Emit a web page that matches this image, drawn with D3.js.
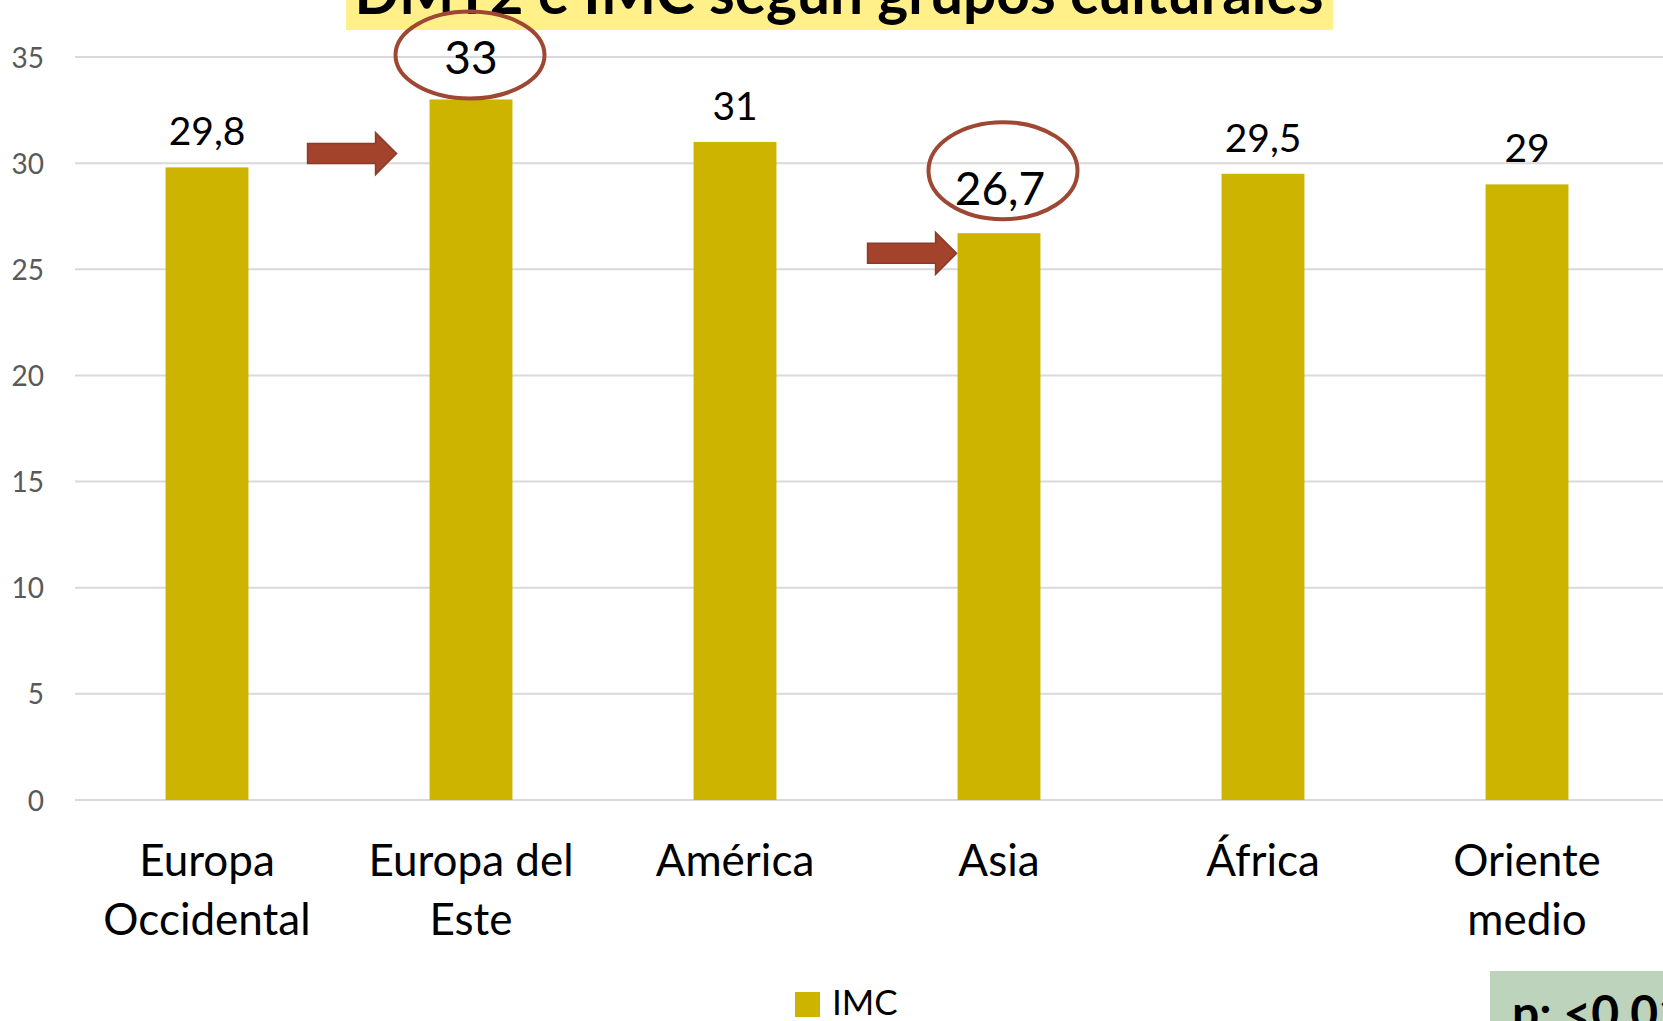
<!DOCTYPE html>
<html>
<head>
<meta charset="utf-8">
<script src="https://cdn.jsdelivr.net/npm/d3@7"></script>
<style>
  html, body { margin: 0; padding: 0; background: #ffffff; }
  svg { display: block; font-family: Lato, "Open Sans", sans-serif; }
</style>
</head>
<body>
<script>
// datos del grafico
var categorias = ["Europa Occidental", "Europa del Este", "América", "Asia", "África", "Oriente medio"];
var lineasCategoria = [["Europa", "Occidental"], ["Europa del", "Este"], ["América"], ["Asia"], ["África"], ["Oriente", "medio"]];
var valoresIMC = [29.8, 33, 31, 26.7, 29.5, 29];
var etiquetasIMC = ["29,8", "33", "31", "26,7", "29,5", "29"];
var ticksY = [0, 5, 10, 15, 20, 25, 30, 35];
var destacados = ["Europa del Este", "Asia"];
var titulo = "DMT2 e IMC según grupos culturales";
var serie = "IMC";
var textoP = "p: <0.01";

var ancho = 1663, alto = 1021;
var colorBarra = "#CDB400";
var colorRojo = "#A4432C";

var svg = d3.select("body").append("svg")
    .attr("width", ancho)
    .attr("height", alto);

svg.append("rect").attr("width", ancho).attr("height", alto).attr("fill", "#ffffff");

var x = d3.scaleBand()
    .domain(categorias)
    .range([75, 75 + 6 * 264])
    .padding(0);

var y = d3.scaleLinear()
    .domain([0, 35])
    .range([800, 57]);

var anchoBarra = x.bandwidth() * 0.314;

// lineas de la grilla
svg.append("g").selectAll("line")
    .data(ticksY)
    .enter()
    .append("line")
    .attr("x1", 75)
    .attr("x2", ancho)
    .attr("y1", function (d) { return y(d); })
    .attr("y2", function (d) { return y(d); })
    .attr("stroke", "#d9d9d9")
    .attr("stroke-width", 2);

// eje Y
var ejeY = d3.axisLeft(y).tickValues(ticksY).tickSize(0).tickPadding(0);
var gEje = svg.append("g")
    .attr("transform", "translate(44,0)")
    .call(ejeY);
gEje.select(".domain").remove();
gEje.selectAll("text")
    .attr("font-family", "Lato, sans-serif")
    .attr("font-size", 28)
    .attr("fill", "#595959")
    .attr("dy", "0.36em");

// titulo (recortado arriba)
svg.append("rect")
    .attr("x", 346).attr("y", 0)
    .attr("width", 987).attr("height", 30)
    .attr("fill", "#FFF08A");
var tTitulo = svg.append("text")
    .attr("x", 839)
    .attr("y", 14)
    .attr("text-anchor", "middle")
    .attr("font-weight", 700)
    .attr("font-size", 52)
    .attr("fill", "#000")
    .text(titulo);
var largo = tTitulo.node().getComputedTextLength();
tTitulo.attr("font-size", 52 * 969 / largo);

// barras
svg.append("g").selectAll("rect")
    .data(valoresIMC)
    .enter()
    .append("rect")
    .attr("x", function (d, i) { return x(categorias[i]) + x.bandwidth() / 2 - anchoBarra / 2; })
    .attr("y", function (d) { return y(d); })
    .attr("width", anchoBarra)
    .attr("height", function (d) { return y(0) - y(d); })
    .attr("fill", colorBarra);

// etiquetas de valores
svg.append("g").selectAll("text")
    .data(valoresIMC)
    .enter()
    .append("text")
    .attr("x", function (d, i) { return x(categorias[i]) + x.bandwidth() / 2 + (categorias[i] === "Asia" ? 1 : 0); })
    .attr("y", function (d, i) {
        var esDest = destacados.indexOf(categorias[i]) >= 0;
        if (!esDest) return y(d) - 22;
        return categorias[i] === "Asia" ? y(d) - 28 : y(d) - 25;
    })
    .attr("text-anchor", "middle")
    .attr("font-size", function (d, i) { return destacados.indexOf(categorias[i]) >= 0 ? 46 : 39; })
    .attr("fill", "#000")
    .text(function (d, i) { return etiquetasIMC[i]; });

// etiquetas de categorias
var gCat = svg.append("g");
lineasCategoria.forEach(function (lineas, i) {
    var t = gCat.append("text")
        .attr("text-anchor", "middle")
        .attr("font-size", 44)
        .attr("fill", "#000");
    lineas.forEach(function (l, j) {
        t.append("tspan")
            .attr("x", x(categorias[i]) + x.bandwidth() / 2)
            .attr("y", 876 + j * 59)
            .text(l);
    });
});

// elipses y flechas de los destacados
var elipses = [
    {cat: "Europa del Este", dy: -44.5, dx: -1, rx: 74.5, ry: 43.5},
    {cat: "Asia", dy: -62.5, dx: 4, rx: 74.5, ry: 48.5}
];
elipses.forEach(function (e) {
    var i = categorias.indexOf(e.cat);
    svg.append("ellipse")
        .attr("cx", x(e.cat) + x.bandwidth() / 2 + e.dx)
        .attr("cy", y(valoresIMC[i]) + e.dy)
        .attr("rx", e.rx)
        .attr("ry", e.ry)
        .attr("fill", "none")
        .attr("stroke", "#9E4733")
        .attr("stroke-width", 4);
});

var flechas = [
    {cat: "Europa del Este", valor: 30.45, punta: -33},
    {cat: "Asia", valor: 25.75, punta: -1}
];
flechas.forEach(function (f) {
    var xp = x(f.cat) + x.bandwidth() / 2 - anchoBarra / 2 + f.punta;
    var yc = y(f.valor);
    var largoF = 89, cabeza = 21, medio = 10, alaCab = 21;
    var pts = [
        [xp - largoF, yc - medio],
        [xp - cabeza, yc - medio],
        [xp - cabeza, yc - alaCab],
        [xp, yc],
        [xp - cabeza, yc + alaCab],
        [xp - cabeza, yc + medio],
        [xp - largoF, yc + medio]
    ];
    svg.append("path")
        .attr("d", d3.line()(pts) + "Z")
        .attr("fill", colorRojo)
        .attr("stroke", "#8C3B28")
        .attr("stroke-width", 1.5)
        .attr("stroke-linejoin", "miter");
});

// leyenda
svg.append("rect")
    .attr("x", 795).attr("y", 992)
    .attr("width", 25).attr("height", 25)
    .attr("fill", colorBarra);
svg.append("text")
    .attr("x", 832).attr("y", 1015)
    .attr("font-size", 35)
    .attr("fill", "#000")
    .text(serie);

// caja del valor p
svg.append("rect")
    .attr("x", 1490).attr("y", 971)
    .attr("width", ancho - 1490).attr("height", alto - 971)
    .attr("fill", "#BDD3BC");
svg.append("text")
    .attr("x", 1512).attr("y", 1030)
    .attr("font-weight", 700)
    .attr("font-size", 48)
    .attr("fill", "#000")
    .text(textoP);
</script>
</body>
</html>
